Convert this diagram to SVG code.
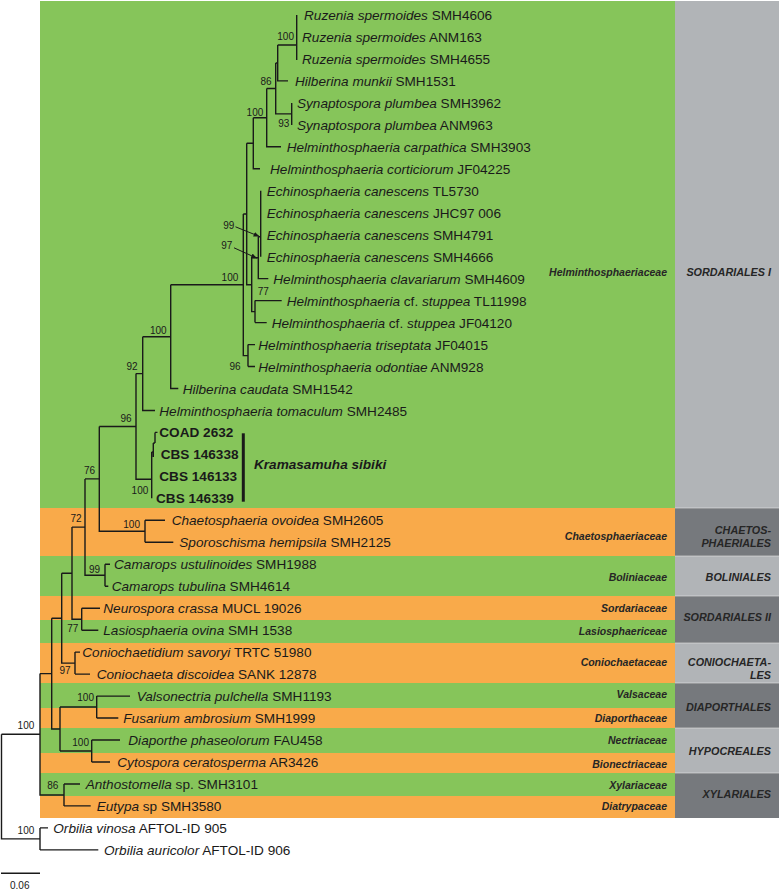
<svg xmlns="http://www.w3.org/2000/svg" width="780" height="890" viewBox="0 0 780 890">
<defs>
<style>
.t{font-family:"Liberation Sans",Arial,sans-serif;font-size:13.6px;fill:#1a1a1a}
.i{font-style:italic}
.b{font-family:"Liberation Sans",Arial,sans-serif;font-size:13.6px;font-weight:bold;fill:#1a1a1a}
.bs{font-family:"Liberation Sans",Arial,sans-serif;font-size:10px;fill:#1a1a1a}
.fam{font-family:"Liberation Sans",Arial,sans-serif;font-size:10.5px;font-weight:bold;font-style:italic;fill:#262626;text-anchor:end}
.ord{font-family:"Liberation Sans",Arial,sans-serif;font-size:10.8px;font-weight:bold;font-style:italic;fill:#262626;text-anchor:end}
.g{fill:#86c55a}.o{fill:#f9aa4a}.lg{fill:#b1b4b7}.dg{fill:#76797d}
.tr{fill:none;stroke:#1a1a1a;stroke-width:1.4}
</style>
<marker id="ah" viewBox="0 0 10 10" refX="9" refY="5" markerWidth="6" markerHeight="6" orient="auto"><path d="M0,1 L10,5 L0,9 z" fill="#1a1a1a"/></marker>
</defs>
<rect width="780" height="890" fill="#fff"/>
<g id="bands">
<rect class="g" x="40" y="1" width="635" height="507"/>
<rect class="o" x="40" y="508" width="635" height="48"/>
<rect class="g" x="40" y="556" width="635" height="40"/>
<rect class="o" x="40" y="596" width="635" height="24"/>
<rect class="g" x="40" y="620" width="635" height="23"/>
<rect class="o" x="40" y="643" width="635" height="40"/>
<rect class="g" x="40" y="683" width="635" height="25"/>
<rect class="o" x="40" y="708" width="635" height="20"/>
<rect class="g" x="40" y="728" width="635" height="25"/>
<rect class="o" x="40" y="753" width="635" height="20"/>
<rect class="g" x="40" y="773" width="635" height="23"/>
<rect class="o" x="40" y="796" width="635" height="22"/>
<rect class="lg" x="675" y="1" width="104" height="507"/>
<rect class="dg" x="675" y="508" width="104" height="48"/>
<rect class="lg" x="675" y="556" width="104" height="40"/>
<rect class="dg" x="675" y="596" width="104" height="47"/>
<rect class="lg" x="675" y="643" width="104" height="40"/>
<rect class="dg" x="675" y="683" width="104" height="45"/>
<rect class="lg" x="675" y="728" width="104" height="45"/>
<rect class="dg" x="675" y="773" width="104" height="45"/>
<path d="M675,508H779M675,556H779M675,596H779M675,643H779M675,683H779M675,728H779M675,773H779" stroke="#e8e8e8" stroke-width="1" opacity="0.6"/>
</g>
<g id="families">
<text class="fam" x="667" y="275.5">Helminthosphaeriaceae</text>
<text class="fam" x="667" y="539.8">Chaetosphaeriaceae</text>
<text class="fam" x="667" y="581.1">Boliniaceae</text>
<text class="fam" x="667" y="611.5">Sordariaceae</text>
<text class="fam" x="667" y="634.8">Lasiosphaericeae</text>
<text class="fam" x="667" y="665.5">Coniochaetaceae</text>
<text class="fam" x="667" y="698.1">Valsaceae</text>
<text class="fam" x="667" y="721.5">Diaporthaceae</text>
<text class="fam" x="667" y="743.8">Nectriaceae</text>
<text class="fam" x="667" y="767.8">Bionectriaceae</text>
<text class="fam" x="667" y="788.8">Xylariaceae</text>
<text class="fam" x="667" y="809.8">Diatrypaceae</text>
</g>
<g id="orders">
<text class="ord" x="771" y="275.5">SORDARIALES I</text>
<text class="ord" x="771" y="533.8">CHAETOS-</text>
<text class="ord" x="771" y="546.5">PHAERIALES</text>
<text class="ord" x="771" y="581.1">BOLINIALES</text>
<text class="ord" x="771" y="621.1">SORDARIALES II</text>
<text class="ord" x="771" y="665.5">CONIOCHAETA-</text>
<text class="ord" x="771" y="678.8">LES</text>
<text class="ord" x="771" y="710.5">DIAPORTHALES</text>
<text class="ord" x="771" y="754.8">HYPOCREALES</text>
<text class="ord" x="771" y="798.1">XYLARIALES</text>
</g>
<g id="connectors" class="tr">
<path d="M296.7,15V60M277.7,45H296.7"/>
<path d="M277.7,45V80.9H288M275.7,63H277.7"/>
<path d="M275.7,63V113.9H291.7M291.7,102.9V124.9"/>
<path d="M266.7,88.5H275.7M266.7,88.5V146.8H281"/>
<path d="M253.3,117.7H266.7M253.3,117.7V168.8H260"/>
<path d="M246.7,143.3H253.3M246.7,143.3V284.7H251.7"/>
<path d="M260.7,190.8V256.7M258.3,236.7H260.7M258.3,236.7V278.6H268.3"/>
<path d="M251.7,257.7H258.3M251.7,257.7V311.6H255"/>
<path d="M255,300.6V322.6M255,300.6H281.7M255,322.6H266.7"/>
<path d="M243.3,214H246.7M243.3,214V355.6H248M248,344.6V366.5M248,344.6H255M248,366.5H255"/>
<path d="M170.7,284.8H243.3M170.7,284.8V388.5H178.3"/>
<path d="M142.7,336.7H170.7M142.7,336.7V410.5H155"/>
<path d="M136,373.6H142.7M136,373.6V479.3H151.7"/>
<path d="M151.7,452V498.3M151.7,452H153.3M153.3,443V457M153.3,443H155M155,432.4V443M155,432.4H157.5"/>
<path d="M99.3,426.5H136M99.3,426.5V531.3H145M145,520.3V542.3M145,520.3H165M145,542.3H173.3"/>
<path d="M85,478.9H99.3M85,478.9V575.3H105M105,564.3V586.2M105,564.3H110M105,586.2H108.3"/>
<path d="M72,527.1H85M72,527.1V619.2H81.7M81.7,608.2V630.2M81.7,608.2H100M81.7,630.2H98.3"/>
<path d="M61.7,573.2H72M61.7,573.2V663.1H75M75,652.1V674.1M75,652.1H80M75,674.1H90"/>
<path d="M51.7,618.2H61.7M51.7,618.2V729H60"/>
<path d="M60,707V751M60,707H96.7M96.7,696.1V718M96.7,696.1H130M96.7,718H118.3"/>
<path d="M60,751H91.7M91.7,740V762M91.7,740H120M91.7,762H110"/>
<path d="M40,673.6H51.7M40,673.6V795H64M64,784V805.9M64,784H80M64,805.9H90.7"/>
<path d="M1.5,734.3H40M1.5,734.3V838.9H40M40,827.9V849.9M40,827.9H48M40,849.9H98.3"/>
<path d="M1,873.3H40"/>
<path d="M235.5,226.8L259,236.3" stroke-width="1" marker-end="url(#ah)"/>
<path d="M234,247.8L256.5,258" stroke-width="1" marker-end="url(#ah)"/>
<path d="M243.3,433.3V501.7" stroke-width="3"/>
</g>
<g id="support">
<text class="bs" text-anchor="end" x="294" y="39.6">100</text>
<text class="bs" text-anchor="end" x="271.7" y="85.3">86</text>
<text class="bs" text-anchor="end" x="289.3" y="126.6">93</text>
<text class="bs" text-anchor="end" x="263.3" y="116.3">100</text>
<text class="bs" text-anchor="end" x="234.3" y="228.6">99</text>
<text class="bs" text-anchor="end" x="232.3" y="248.6">97</text>
<text class="bs" text-anchor="end" x="238.3" y="281">100</text>
<text class="bs" x="257.7" y="294.6">77</text>
<text class="bs" text-anchor="end" x="240.7" y="370.3">96</text>
<text class="bs" text-anchor="end" x="166.7" y="333.6">100</text>
<text class="bs" text-anchor="end" x="137.7" y="369.6">92</text>
<text class="bs" text-anchor="end" x="131.7" y="421.9">96</text>
<text class="bs" text-anchor="end" x="148.3" y="493.6">100</text>
<text class="bs" text-anchor="end" x="95" y="474.3">76</text>
<text class="bs" text-anchor="end" x="140" y="527.6">100</text>
<text class="bs" text-anchor="end" x="81.7" y="521.9">72</text>
<text class="bs" text-anchor="end" x="100" y="572.9">99</text>
<text class="bs" text-anchor="end" x="78.3" y="631.9">77</text>
<text class="bs" text-anchor="end" x="70.7" y="673.6">97</text>
<text class="bs" text-anchor="end" x="94" y="701.3">100</text>
<text class="bs" text-anchor="end" x="89" y="746.3">100</text>
<text class="bs" text-anchor="end" x="58.3" y="788.6">86</text>
<text class="bs" text-anchor="end" x="34.3" y="728.6">100</text>
<text class="bs" text-anchor="end" x="34.3" y="833.6">100</text>
<text class="bs" x="10" y="889.3">0.06</text>
</g>
<g id="taxa">
<g id="n1"><text class="t" x="304" y="20"><tspan class="i">Ruzenia spermoides</tspan> SMH4606</text></g>
<g id="n2"><text class="t" x="302" y="42"><tspan class="i">Ruzenia spermoides</tspan> ANM163</text></g>
<g id="n3"><text class="t" x="302" y="63.9"><tspan class="i">Ruzenia spermoides</tspan> SMH4655</text></g>
<g id="n4"><text class="t" x="295" y="85.9"><tspan class="i">Hilberina munkii</tspan> SMH1531</text></g>
<g id="n5"><text class="t" x="297" y="107.9"><tspan class="i">Synaptospora plumbea</tspan> SMH3962</text></g>
<g id="n6"><text class="t" x="297" y="129.9"><tspan class="i">Synaptospora plumbea</tspan> ANM963</text></g>
<g id="n7"><text class="t" x="286.7" y="151.8"><tspan class="i">Helminthosphaeria carpathica</tspan> SMH3903</text></g>
<g id="n8"><text class="t" x="270" y="173.8"><tspan class="i">Helminthosphaeria corticiorum</tspan> JF04225</text></g>
<g id="n9"><text class="t" x="266.7" y="195.8"><tspan class="i">Echinosphaeria canescens</tspan> TL5730</text></g>
<g id="n10"><text class="t" x="266.7" y="217.7"><tspan class="i">Echinosphaeria canescens</tspan> JHC97 006</text></g>
<g id="n11"><text class="t" x="266.7" y="239.7"><tspan class="i">Echinosphaeria canescens</tspan> SMH4791</text></g>
<g id="n12"><text class="t" x="266.7" y="261.7"><tspan class="i">Echinosphaeria canescens</tspan> SMH4666</text></g>
<g id="n13"><text class="t" x="273.3" y="283.6"><tspan class="i">Helminthosphaeria clavariarum</tspan> SMH4609</text></g>
<g id="n14"><text class="t" x="286.7" y="305.6"><tspan class="i">Helminthosphaeria</tspan> cf. <tspan class="i">stuppea</tspan> TL11998</text></g>
<g id="n15"><text class="t" x="271.7" y="327.6"><tspan class="i">Helminthosphaeria</tspan> cf. <tspan class="i">stuppea</tspan> JF04120</text></g>
<g id="n16"><text class="t" x="258.3" y="349.6"><tspan class="i">Helminthosphaeria triseptata</tspan> JF04015</text></g>
<g id="n17"><text class="t" x="258.3" y="371.5"><tspan class="i">Helminthosphaeria odontiae</tspan> ANM928</text></g>
<g id="n18"><text class="t" x="182.7" y="393.5"><tspan class="i">Hilberina caudata</tspan> SMH1542</text></g>
<g id="n19"><text class="t" x="159.3" y="415.5"><tspan class="i">Helminthosphaeria tomaculum</tspan> SMH2485</text></g>
<g id="n20"><text class="b" x="159.3" y="437.4">COAD 2632</text></g>
<g id="n21"><text class="b" x="160.7" y="459.4">CBS 146338</text></g>
<g id="n22"><text class="b" x="159.3" y="481.4">CBS 146133</text></g>
<g id="n23"><text class="b" x="156" y="503.3">CBS 146339</text></g>
<g id="kram"><text class="b i" x="254" y="469.3">Kramasamuha sibiki</text></g>
<g id="n24"><text class="t" x="171.7" y="525.3"><tspan class="i">Chaetosphaeria ovoidea</tspan> SMH2605</text></g>
<g id="n25"><text class="t" x="179.3" y="547.3"><tspan class="i">Sporoschisma hemipsila</tspan> SMH2125</text></g>
<g id="n26"><text class="t" x="114" y="569.3"><tspan class="i">Camarops ustulinoides</tspan> SMH1988</text></g>
<g id="n27"><text class="t" x="111.7" y="591.2"><tspan class="i">Camarops tubulina</tspan> SMH4614</text></g>
<g id="n28"><text class="t" x="103.3" y="613.2"><tspan class="i">Neurospora crassa</tspan> MUCL 19026</text></g>
<g id="n29"><text class="t" x="103.3" y="635.2"><tspan class="i">Lasiosphaeria ovina</tspan> SMH 1538</text></g>
<g id="n30"><text class="t" x="82.3" y="657.1"><tspan class="i">Coniochaetidium savoryi</tspan> TRTC 51980</text></g>
<g id="n31"><text class="t" x="96.7" y="679.1"><tspan class="i">Coniochaeta discoidea</tspan> SANK 12878</text></g>
<g id="n32"><text class="t" x="136.7" y="701.1"><tspan class="i">Valsonectria pulchella</tspan> SMH1193</text></g>
<g id="n33"><text class="t" x="123.3" y="723"><tspan class="i">Fusarium ambrosium</tspan> SMH1999</text></g>
<g id="n34"><text class="t" x="128.3" y="745"><tspan class="i">Diaporthe phaseolorum</tspan> FAU458</text></g>
<g id="n35"><text class="t" x="117.3" y="767"><tspan class="i">Cytospora ceratosperma</tspan> AR3426</text></g>
<g id="n36"><text class="t" x="85.7" y="789"><tspan class="i">Anthostomella</tspan> sp. SMH3101</text></g>
<g id="n37"><text class="t" x="96.7" y="810.9"><tspan class="i">Eutypa</tspan> sp SMH3580</text></g>
<g id="n38"><text class="t" x="53.3" y="832.9"><tspan class="i">Orbilia vinosa</tspan> AFTOL-ID 905</text></g>
<g id="n39"><text class="t" x="104" y="854.9"><tspan class="i">Orbilia auricolor</tspan> AFTOL-ID 906</text></g>
</g>
</svg>
